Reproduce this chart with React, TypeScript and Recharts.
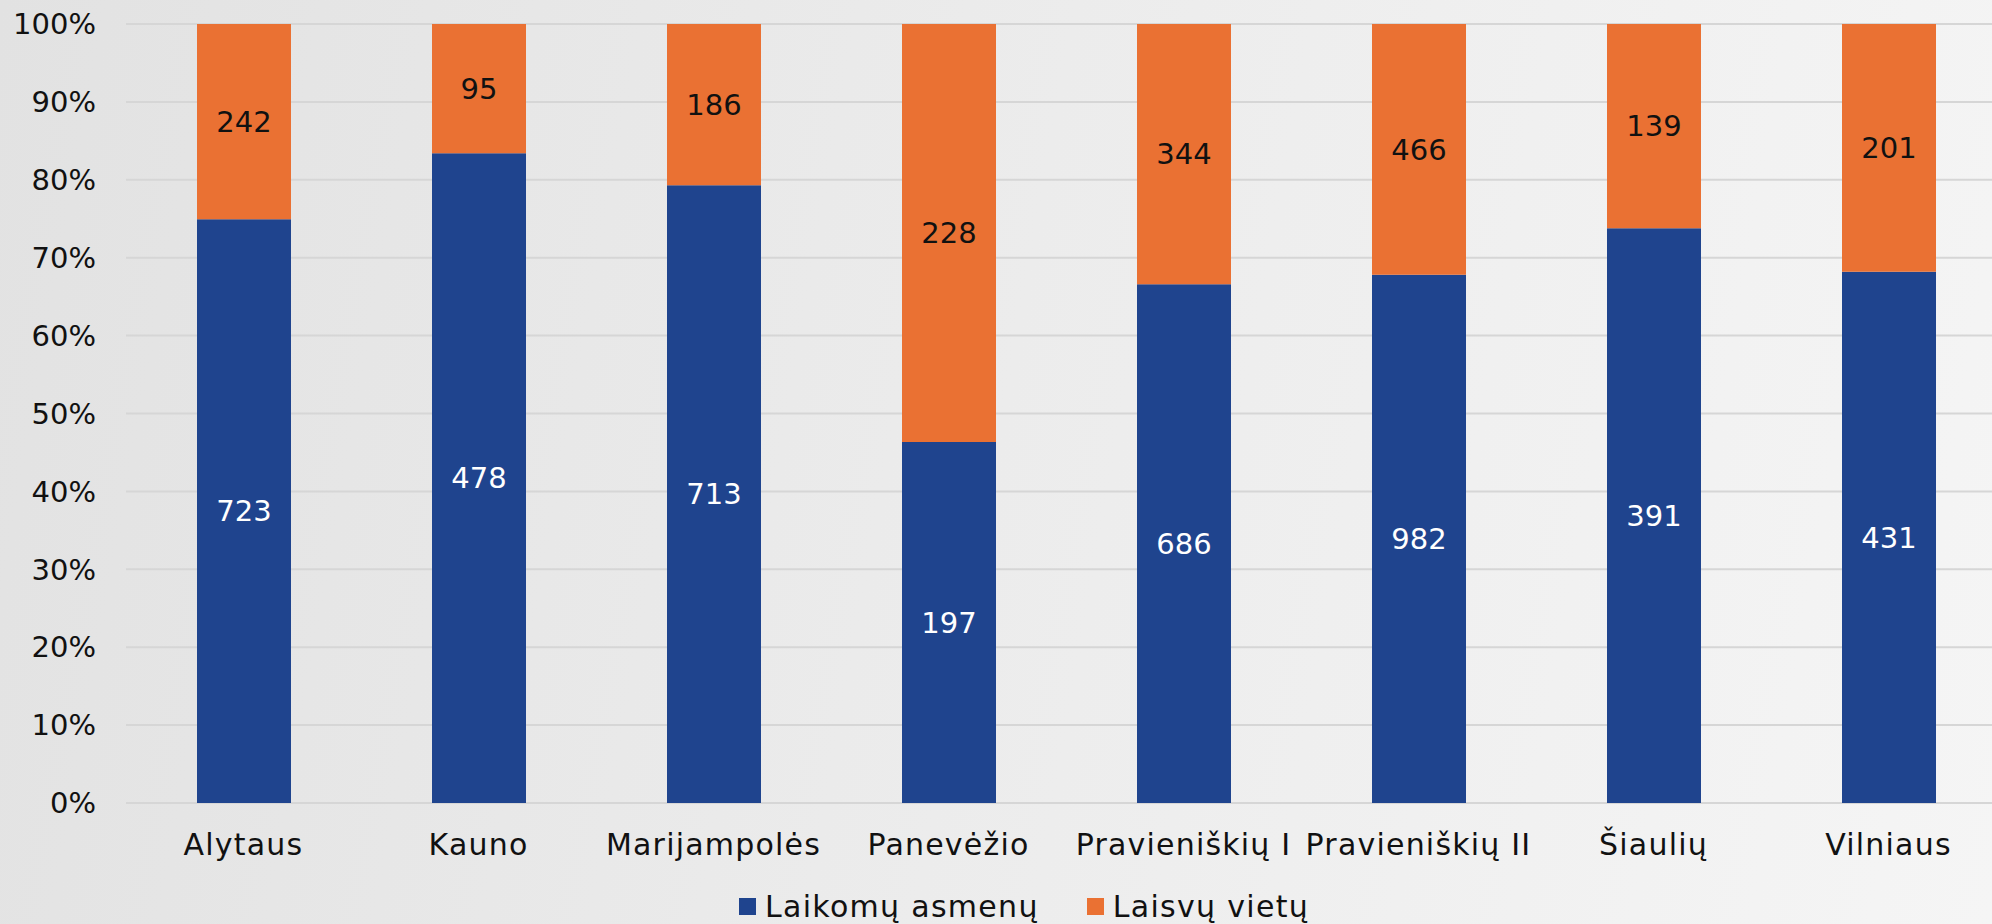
// @ts-nocheck
import { BarChart, Bar, XAxis, YAxis, CartesianGrid, Legend, LabelList } from 'recharts'

const facilities = ['Alytaus', 'Kauno', 'Marijampolės', 'Panevėžio', 'Pravieniškių I', 'Pravieniškių II', 'Šiaulių', 'Vilniaus']
const heldPersons = [723, 478, 713, 197, 686, 982, 391, 431]
const freePlaces = [242, 95, 186, 228, 344, 466, 139, 201]
const yTicks = [0, 0.1, 0.2, 0.3, 0.4, 0.5, 0.6, 0.7, 0.8, 0.9, 1]

const BLUE = '#1f448e'
const ORANGE = '#ea7133'
const FONT = '"DejaVu Sans", sans-serif'

const data = facilities.map((name, i) => ({ name, held: heldPersons[i], free: freePlaces[i] }))

function pct(v: number) {
  return Math.round(v * 100) + '%'
}

function LegendBox() {
  const items = [
    { label: 'Laikomų asmenų', color: BLUE },
    { label: 'Laisvų vietų', color: ORANGE },
  ]
  return (
    <div style={{ display: 'flex', justifyContent: 'center', alignItems: 'center', height: 36, paddingLeft: 90, fontFamily: FONT, fontSize: 30, letterSpacing: 1.3, color: '#111' }}>
      {items.map(it => (
        <div key={it.label} style={{ display: 'flex', alignItems: 'center', marginRight: 48 }}>
          <span style={{ width: 17, height: 17, background: it.color, display: 'inline-block', marginRight: 9 }} />
          <span>{it.label}</span>
        </div>
      ))}
    </div>
  )
}

export default function App() {
  return (
    <div style={{ position: 'fixed', left: 0, top: 0, width: 1992, height: 924, overflow: 'hidden', background: 'linear-gradient(100deg, #e2e2e2 0%, #ececec 50%, #f5f5f5 100%)' }}>
      <BarChart width={2006} height={924} data={data} stackOffset="expand" margin={{ top: 24, right: 0, bottom: 0, left: 0 }} barSize={94}>
        <CartesianGrid vertical={false} stroke="#d6d6d6" strokeWidth={2} />
        <XAxis dataKey="name" axisLine={false} tickLine={false} tickMargin={25} height={85} interval={0}
          tick={{ fontFamily: FONT, fontSize: 30, fill: '#111', letterSpacing: 1.2 }} />
        <YAxis ticks={yTicks} domain={[0, 1]} tickFormatter={pct} axisLine={false} tickLine={false} tickMargin={24} width={126}
          tick={{ fontFamily: FONT, fontSize: 29, fill: '#111' }} />
        <Legend verticalAlign="bottom" content={() => <LegendBox />} />
        <Bar dataKey="held" stackId="a" fill={BLUE} isAnimationActive={false} name="Laikomų asmenų">
          <LabelList dataKey="held" position="center" fill="#ffffff" style={{ fontFamily: FONT, fontSize: 29 }} />
        </Bar>
        <Bar dataKey="free" stackId="a" fill={ORANGE} isAnimationActive={false} name="Laisvų vietų">
          <LabelList dataKey="free" position="center" fill="#111111" style={{ fontFamily: FONT, fontSize: 29 }} />
        </Bar>
      </BarChart>
    </div>
  )
}
